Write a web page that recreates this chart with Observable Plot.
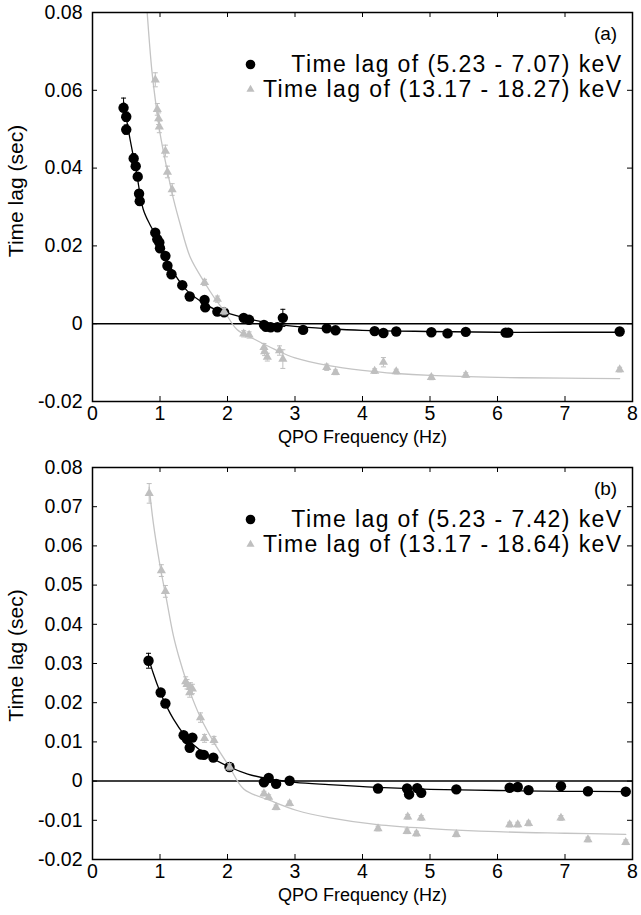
<!DOCTYPE html>
<html><head><meta charset="utf-8">
<script src="https://cdn.jsdelivr.net/npm/d3@7"></script>
<script src="https://cdn.jsdelivr.net/npm/@observablehq/plot@0.6"></script>
<style>
body{margin:0;background:#fff;}
#chart{width:641px;}
svg{display:block;}
g[font-size="23"]{letter-spacing:1.4px;}
</style></head><body><div id="chart"></div>
<script>
// ---------- shared ----------
const xTicks = [0,1,2,3,4,5,6,7,8];
const xLabel = "QPO Frequency (Hz)";
const yLabel = "Time lag (sec)";

// ---------- panel (a) ----------
const panelALabel = "(a)";
const legendA = ["Time lag of (5.23 - 7.07) keV", "Time lag of (13.17 - 18.27) keV"];
const yTicksA = [-0.02,0,0.02,0.04,0.06,0.08];
const softFreqA = [0.46,0.50,0.50,0.61,0.64,0.67,0.69,0.70,0.93,0.96,0.99,1.00,1.08,1.11,1.17,1.33,1.44,1.66,1.67,1.85,1.95,2.24,2.32,2.54,2.57,2.64,2.74,2.82,3.12,3.47,3.60,4.18,4.31,4.50,5.02,5.26,5.53,6.12,6.16,7.81];
const softLagA  = [0.0555,0.0532,0.0499,0.0425,0.0405,0.0378,0.0334,0.0315,0.0234,0.0217,0.0209,0.0194,0.0174,0.0149,0.0127,0.0099,0.0070,0.0061,0.0042,0.0031,0.0029,0.0015,0.0010,-0.0003,-0.0008,-0.0009,-0.0009,0.0015,-0.0016,-0.0012,-0.0017,-0.0019,-0.0024,-0.0020,-0.0022,-0.0025,-0.0021,-0.0023,-0.0023,-0.0020];
const softErrA  = [0.0025,0.0012,0.0012,0.0012,0.0010,0.0010,0.0010,0.0010,0.0008,0.0010,0.0008,0.0008,0.0008,0.0008,0.0008,0.0008,0.0008,0.0008,0.0008,0.0008,0.0008,0.0008,0.0008,0.0008,0.0008,0.0008,0.0008,0.0022,0.0006,0.0006,0.0006,0.0006,0.0006,0.0006,0.0006,0.0006,0.0006,0.0006,0.0006,0.0006];
const hardFreqA = [0.93,0.96,0.98,0.99,1.08,1.11,1.18,1.66,1.85,1.95,2.24,2.32,2.54,2.55,2.59,2.77,2.82,3.47,3.60,4.18,4.31,4.50,5.02,5.53,7.81];
const hardLagA  = [0.0627,0.0551,0.0527,0.0506,0.0444,0.0390,0.0345,0.0106,0.0063,0.0031,-0.0026,-0.0029,-0.0061,-0.0072,-0.0086,-0.0069,-0.0091,-0.0112,-0.0125,-0.0122,-0.0099,-0.0123,-0.0138,-0.0132,-0.0118];
const hardErrA  = [0.0018,0.0015,0.0015,0.0015,0.0015,0.0015,0.0015,0.0008,0.0008,0.0008,0.0008,0.0008,0.0010,0.0010,0.0010,0.0012,0.0024,0.0008,0.0006,0.0006,0.0012,0.0006,0.0006,0.0006,0.0006];
const softFitFreqA = [0.46,0.55,0.65,0.75,0.85,0.93,1.0,1.1,1.2,1.4,1.6,1.8,2.0,2.3,2.6,3.0,3.5,4.0,5.0,6.0,7.0,7.81];
const softFitLagA  = [0.057,0.048,0.039,0.0295,0.0255,0.023,0.0203,0.0165,0.0132,0.0085,0.0058,0.0038,0.0027,0.0013,0.0002,-0.0007,-0.0013,-0.0017,-0.0020,-0.0022,-0.0022,-0.0022];
const hardFitFreqA = [0.81,0.88,0.95,1.0,1.1,1.2,1.3,1.45,1.66,1.8,1.95,2.14,2.4,2.7,3.0,3.5,4.0,4.5,5.0,6.0,7.0,7.81];
const hardFitLagA  = [0.080,0.065,0.055,0.049,0.040,0.032,0.0255,0.0170,0.0106,0.0068,0.0033,-0.0015,-0.0040,-0.0066,-0.0088,-0.0108,-0.0120,-0.0128,-0.0133,-0.0138,-0.0140,-0.0141];

// ---------- panel (b) ----------
const panelBLabel = "(b)";
const legendB = ["Time lag of (5.23 - 7.42) keV", "Time lag of (13.17 - 18.64) keV"];
const yTicksB = [-0.02,-0.01,0,0.01,0.02,0.03,0.04,0.05,0.06,0.07,0.08];
const softFreqB = [0.83,1.01,1.08,1.35,1.40,1.48,1.44,1.60,1.65,1.79,2.03,2.54,2.61,2.72,2.92,4.23,4.66,4.69,4.81,4.87,5.39,6.18,6.30,6.46,6.94,7.34,7.90];
const softLagB  = [0.0307,0.0226,0.0198,0.0117,0.0107,0.0111,0.0085,0.0068,0.0067,0.0060,0.0036,-0.0003,0.0008,-0.0007,0.0001,-0.0019,-0.0019,-0.0034,-0.0018,-0.0030,-0.0021,-0.0017,-0.0015,-0.0023,-0.0013,-0.0026,-0.0027];
const softErrB  = [0.0019,0.0008,0.0008,0.0008,0.0008,0.0008,0.0008,0.0008,0.0008,0.0008,0.0008,0.0006,0.0006,0.0006,0.0006,0.0006,0.0006,0.0006,0.0006,0.0006,0.0006,0.0006,0.0006,0.0006,0.0006,0.0006,0.0006];
const hardFreqB = [0.84,1.02,1.08,1.38,1.40,1.45,1.44,1.48,1.60,1.66,1.80,2.03,2.54,2.61,2.72,2.92,4.23,4.67,4.66,4.80,4.87,5.39,6.18,6.30,6.46,6.94,7.34,7.90];
const hardLagB  = [0.0734,0.0537,0.0484,0.0254,0.0247,0.0239,0.0226,0.0235,0.0162,0.0109,0.0104,0.0036,-0.0032,-0.0041,-0.0067,-0.0057,-0.0121,-0.0091,-0.0128,-0.0134,-0.0094,-0.0136,-0.0111,-0.0111,-0.0108,-0.0094,-0.0149,-0.0156];
const hardErrB  = [0.0025,0.0015,0.0015,0.0012,0.0012,0.0012,0.0012,0.0012,0.0012,0.0010,0.0010,0.0008,0.0006,0.0006,0.0006,0.0006,0.0006,0.0006,0.0006,0.0006,0.0006,0.0006,0.0006,0.0006,0.0006,0.0006,0.0006,0.0006];
const softFitFreqB = [0.83,0.9,1.0,1.1,1.2,1.35,1.5,1.7,2.03,2.3,2.6,3.0,3.5,4.22,5.0,6.0,7.0,7.92];
const softFitLagB  = [0.0315,0.0275,0.0228,0.019,0.0158,0.0120,0.0092,0.0066,0.0036,0.0018,0.0006,-0.0003,-0.0009,-0.0016,-0.0021,-0.0024,-0.0026,-0.0027];
const hardFitFreqB = [0.84,0.9,1.0,1.1,1.2,1.3,1.45,1.6,1.8,2.03,2.24,2.64,3.03,3.5,4.22,5.0,6.0,7.0,7.9];
const hardFitLagB  = [0.075,0.066,0.055,0.046,0.037,0.0305,0.0225,0.0162,0.0098,0.0036,-0.0020,-0.0050,-0.0075,-0.0093,-0.0111,-0.0121,-0.0129,-0.0133,-0.0136];

// ---------- colours ----------
const softColor = "#000000";
const hardColor = "#bfbfbf";
const hardLine = "#c4c4c4";

const rows = (xs, ys, es) => xs.map((x, i) => ({x, y: ys[i], e: es ? es[i] : 0}));
const capSymbol = {draw(ctx, size) { const r = Math.sqrt(size / Math.PI); ctx.moveTo(-r, 0); ctx.lineTo(r, 0); }};
const fmtY = d => d === 0 ? "0" : d.toFixed(2);

function panel(cfg) {
  const {height, marginTop, marginBottom, yTicks, soft, hard, softFit, hardFit, legend, tag, yLabelShift} = cfg;
  const marginLeft = 92, marginRight = 9, width = 641;
  const fw = width - marginLeft - marginRight;
  const fh = height - marginTop - marginBottom;
  const tickLen = 5;
  return Plot.plot({
    width, height, marginLeft, marginRight, marginTop, marginBottom,
    style: {fontFamily: "'Liberation Sans', Arial, sans-serif", fontSize: "19px", color: "black", background: "white", overflow: "visible"},
    x: {domain: [0, 8]},
    y: {domain: [-0.02, 0.08]},
    marks: [
      Plot.ruleY([0], {stroke: "black", strokeWidth: 1.5}),
      Plot.line(hardFit, {x: "x", y: "y", stroke: hardLine, strokeWidth: 1.3, curve: "catmull-rom", clip: true}),
      Plot.line(softFit, {x: "x", y: "y", stroke: "black", strokeWidth: 1.3, curve: "catmull-rom", clip: true}),
      Plot.ruleX(soft, {x: "x", y1: d => d.y - d.e, y2: d => d.y + d.e, stroke: softColor, strokeWidth: 1}),
      Plot.dot(soft, {x: "x", y: d => d.y + d.e, symbol: capSymbol, r: 2.5, stroke: softColor, strokeWidth: 1}),
      Plot.dot(soft, {x: "x", y: d => d.y - d.e, symbol: capSymbol, r: 2.5, stroke: softColor, strokeWidth: 1}),
      Plot.dot(soft, {x: "x", y: "y", r: 5.2, fill: softColor, stroke: "none"}),
      Plot.ruleX(hard, {x: "x", y1: d => d.y - d.e, y2: d => d.y + d.e, stroke: hardColor, strokeWidth: 1}),
      Plot.dot(hard, {x: "x", y: d => d.y + d.e, symbol: capSymbol, r: 2.5, stroke: hardColor, strokeWidth: 1}),
      Plot.dot(hard, {x: "x", y: d => d.y - d.e, symbol: capSymbol, r: 2.5, stroke: hardColor, strokeWidth: 1}),
      Plot.dot(hard, {x: "x", y: "y", r: 3.4, symbol: "triangle", fill: hardColor, stroke: "none"}),
      // inward ticks
      Plot.tickY(yTicks, {y: d => d, insetRight: fw - tickLen, stroke: "black"}),
      Plot.tickY(yTicks, {y: d => d, insetLeft: fw - tickLen, stroke: "black"}),
      Plot.tickX(xTicks, {x: d => d, insetTop: fh - tickLen, stroke: "black"}),
      Plot.tickX(xTicks, {x: d => d, insetBottom: fh - tickLen, stroke: "black"}),
      Plot.frame({stroke: "black", strokeWidth: 1.5}),
      Plot.axisX({ticks: xTicks, tickSize: 0, tickPadding: 5, tickFormat: d => String(d), label: null, fontSize: 19.5}),
      Plot.axisY({ticks: yTicks, tickSize: 0, tickPadding: 10, tickFormat: fmtY, label: null, fontSize: 19.5}),
      Plot.text([xLabel], {text: d => d, frameAnchor: "bottom", dy: 36, fontSize: 18, textAnchor: "middle", lineAnchor: "middle"}),
      Plot.text([yLabel], {text: d => d, frameAnchor: "left", dx: -76, dy: yLabelShift, rotate: -90, fontSize: 21, textAnchor: "middle", lineAnchor: "middle"}),
      // legend
      Plot.dot([legend[0]], {x: null, y: null, frameAnchor: "top-right", dx: -382, dy: 52, r: 4.8, fill: softColor}),
      Plot.text([legend[0]], {text: d => d, frameAnchor: "top-right", dx: -10, dy: 52, textAnchor: "end", lineAnchor: "middle", fontSize: 23}),
      Plot.dot([legend[1]], {x: null, y: null, frameAnchor: "top-right", dx: -382, dy: 77, r: 3, symbol: "triangle", fill: hardColor}),
      Plot.text([legend[1]], {text: d => d, frameAnchor: "top-right", dx: -10, dy: 77, textAnchor: "end", lineAnchor: "middle", fontSize: 23}),
      Plot.text([tag], {text: d => d, frameAnchor: "top-right", dx: -27, dy: 21, textAnchor: "middle", lineAnchor: "middle", fontSize: 19})
    ]
  });
}

const chart = document.getElementById("chart");
chart.append(panel({
  height: 458, marginTop: 12, marginBottom: 57, yTicks: yTicksA, yLabelShift: -16,
  soft: rows(softFreqA, softLagA, softErrA), hard: rows(hardFreqA, hardLagA, hardErrA),
  softFit: rows(softFitFreqA, softFitLagA), hardFit: rows(hardFitFreqA, hardFitLagA),
  legend: legendA, tag: panelALabel
}));
chart.append(panel({
  height: 457, marginTop: 9, marginBottom: 56, yTicks: yTicksB, yLabelShift: -8,
  soft: rows(softFreqB, softLagB, softErrB), hard: rows(hardFreqB, hardLagB, hardErrB),
  softFit: rows(softFitFreqB, softFitLagB), hardFit: rows(hardFitFreqB, hardFitLagB),
  legend: legendB, tag: panelBLabel
}));
</script></body></html>
